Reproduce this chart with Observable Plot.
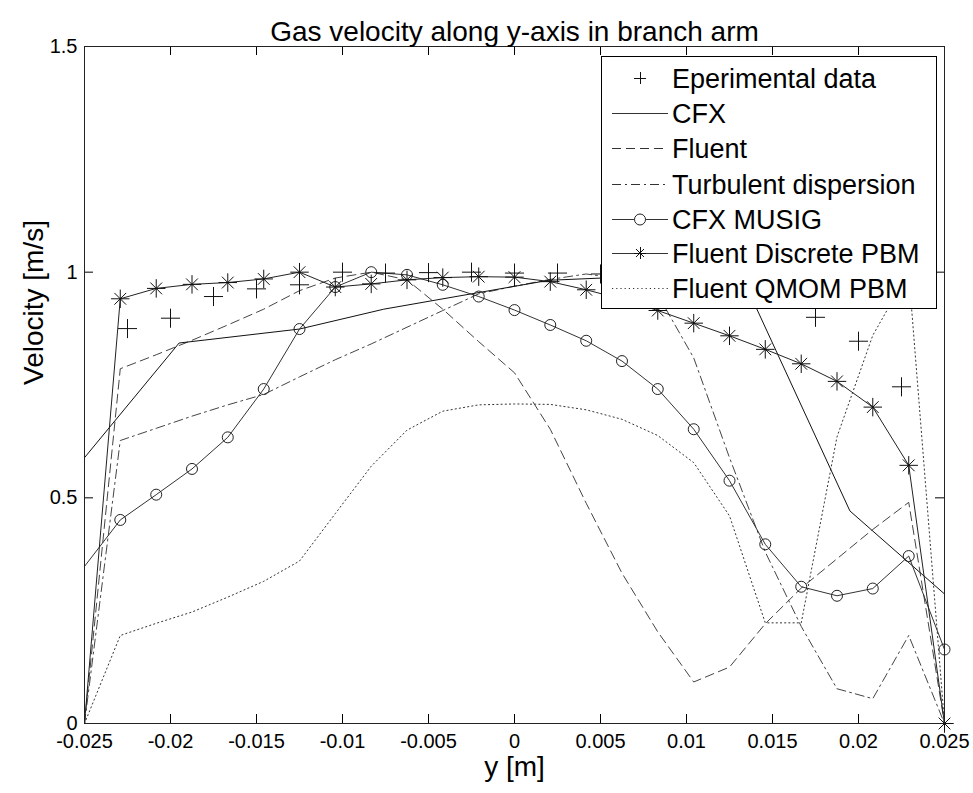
<!DOCTYPE html>
<html><head><meta charset="utf-8">
<script src="https://cdn.jsdelivr.net/npm/d3@7"></script>
<script src="https://cdn.jsdelivr.net/npm/@observablehq/plot@0.6"></script>
<style>
html,body{margin:0;padding:0;background:#fff;}
#chart{width:973px;height:793px;}
</style></head><body><div id="chart"></div>
<script>
// ---------- data ----------
const xTicks = [-0.025,-0.02,-0.015,-0.01,-0.005,0,0.005,0.01,0.015,0.02,0.025];
const yTicks = [0,0.5,1,1.5];

const gridX = [-0.025,-0.02292,-0.02083,-0.01875,-0.01667,-0.01458,-0.0125,-0.01042,-0.00833,-0.00625,-0.00417,-0.00208,0,0.00208,0.00417,0.00625,0.00833,0.01042,0.0125,0.01458,0.01667,0.01875,0.02083,0.02292,0.025];

const expX = [-0.0225,-0.02,-0.0175,-0.015,-0.0125,-0.01,-0.0075,-0.005,-0.0025,0,0.0025,0.005,0.0075,0.01,0.0125,0.015,0.0175,0.02,0.0225];
const expV = [0.875,0.898,0.946,0.963,0.972,1.0,0.998,0.999,1.0,0.998,0.998,0.996,0.99,0.98,0.96,0.94,0.9,0.847,0.746];

const cfxX = [-0.025,-0.0195,-0.0125,-0.0076,0.002,0.0131,0.0195,0.025];
const cfxV = [0.589,0.843,0.874,0.918,0.982,1.0,0.471,0.287];

const fluentV = [0,0.786,0.817,0.849,0.883,0.918,0.959,0.987,1.0,0.983,0.918,0.846,0.777,0.652,0.488,0.333,0.203,0.092,0.125,0.221,0.30,0.365,0.43,0.49,0];
const turbV   = [0,0.627,0.654,0.681,0.706,0.729,0.768,0.806,0.841,0.878,0.915,0.952,0.969,0.984,0.996,0.985,0.95,0.81,0.589,0.38,0.215,0.077,0.055,0.195,0];
const musigV  = [0.348,0.451,0.507,0.564,0.634,0.741,0.874,0.967,1.0,0.994,0.972,0.946,0.916,0.883,0.848,0.803,0.741,0.652,0.538,0.397,0.303,0.283,0.299,0.371,0.164];
const discV   = [0,0.941,0.964,0.973,0.977,0.985,1.0,0.967,0.974,0.983,0.988,0.99,0.989,0.979,0.961,0.94,0.915,0.887,0.859,0.829,0.797,0.758,0.701,0.572,0];
const qmomV   = [0,0.195,0.222,0.247,0.28,0.315,0.36,0.465,0.57,0.65,0.692,0.706,0.708,0.707,0.695,0.674,0.638,0.578,0.46,0.223,0.223,0.635,0.86,1.0,0];

const legendNames = ["Eperimental data","CFX","Fluent","Turbulent dispersion","CFX MUSIG","Fluent Discrete PBM","Fluent QMOM PBM"];

// ---------- build ----------
const rows = (xs, vs) => xs.map((x,i)=>({x, v: vs[i]}));
const expD = rows(expX, expV);
const cfxD = rows(cfxX, cfxV);
const fluD = rows(gridX, fluentV);
const turD = rows(gridX, turbV);
const musD = rows(gridX, musigV);
const disD = rows(gridX, discV);
const qmoD = rows(gridX, qmomV);

const W=973, H=793, mL=84, mR=29, mT=46, mB=70;
const pW = W-mL-mR, pH = H-mT-mB;
const fmt = d => String(d);
const FONT = '"Liberation Sans", Arial, Helvetica, sans-serif';

const plot = Plot.plot({
  width: W, height: H,
  marginLeft: mL, marginRight: mR, marginTop: mT, marginBottom: mB,
  style: {fontFamily: FONT, fontSize: "20px", color: "#000", background: "#fff", overflow: "visible"},
  x: {domain: [-0.025, 0.025]},
  y: {domain: [0, 1.5]},
  marks: [
    Plot.axisX({ticks: xTicks, tickFormat: fmt, tickSize: 0, tickPadding: 10, label: null, fontSize: 20}),
    Plot.axisY({ticks: yTicks, tickFormat: fmt, tickSize: 0, tickPadding: 7, label: null, fontSize: 20}),
    Plot.tickX(xTicks, {x: d=>d, insetTop: pH-9, stroke: "#000"}),
    Plot.tickX(xTicks, {x: d=>d, insetBottom: pH-9, stroke: "#000"}),
    Plot.tickY(yTicks, {y: d=>d, insetRight: pW-9, stroke: "#000"}),
    Plot.tickY(yTicks, {y: d=>d, insetLeft: pW-9, stroke: "#000"}),
    // series
    Plot.line(qmoD, {x:"x", y:"v", stroke:"#333", strokeWidth:1, strokeDasharray:"1.2,3"}),
    Plot.line(fluD, {x:"x", y:"v", stroke:"#444", strokeWidth:1, strokeDasharray:"9,5"}),
    Plot.line(turD, {x:"x", y:"v", stroke:"#444", strokeWidth:1, strokeDasharray:"9,4,2,4"}),
    Plot.line(cfxD, {x:"x", y:"v", stroke:"#111", strokeWidth:1}),
    Plot.line(musD, {x:"x", y:"v", stroke:"#333", strokeWidth:1}),
    Plot.dot(musD.filter(d=>d.x>-0.025), {x:"x", y:"v", r:5.5, stroke:"#222", fill:"none", strokeWidth:1}),
    Plot.line(disD, {x:"x", y:"v", stroke:"#222", strokeWidth:1}),
    Plot.dot(disD.filter(d=>d.x>-0.025), {x:"x", y:"v", symbol:"plus", r:6, stroke:"#111", strokeWidth:1}),
    Plot.dot(disD.filter(d=>d.x>-0.025), {x:"x", y:"v", symbol:"times", r:5.4, stroke:"#111", strokeWidth:1}),
    Plot.dot(expD, {x:"x", y:"v", symbol:"plus", r:6.2, stroke:"#111", strokeWidth:1}),
    Plot.frame({stroke:"#222"}),
    // titles
    Plot.text(["Gas velocity along y-axis in branch arm"], {frameAnchor:"top", dy:-25, fontSize:28, fill:"#000"}),
    Plot.text(["y [m]"], {frameAnchor:"bottom", dy:52, fontSize:28, fill:"#000"}),
    Plot.text(["Velocity [m/s]"], {frameAnchor:"left", dx:-50, rotate:-90, fontSize:28, fill:"#000"})
  ]
});
document.getElementById("chart").appendChild(plot);

// ---------- legend (MATLAB-style, opaque box) ----------
const svg = d3.select(plot);
const lg = svg.append("g").attr("font-family", FONT).attr("text-anchor","start");
lg.append("rect").attr("x",601.5).attr("y",56.5).attr("width",335).attr("height",252)
  .attr("fill","#fff").attr("stroke","#000").attr("stroke-width",1);
const rowY = [78,113,148,184,219,253,288];
const styles = [
  {line:false, marker:"plus"},
  {line:true, dash:null},
  {line:true, dash:"9,5"},
  {line:true, dash:"9,4,2,4"},
  {line:true, dash:null, marker:"circle"},
  {line:true, dash:null, marker:"star"},
  {line:true, dash:"1.2,3"}
];
legendNames.forEach((name,i)=>{
  const y = rowY[i], s = styles[i];
  if (s.line) {
    const l = lg.append("line").attr("x1",612).attr("x2",668).attr("y1",y+0.5).attr("y2",y+0.5)
      .attr("stroke","#333").attr("stroke-width",1);
    if (s.dash) l.attr("stroke-dasharray", s.dash);
  }
  if (s.marker==="plus" || s.marker==="star") {
    lg.append("path").attr("d",`M634,${y+0.5}H646M640.5,${y-6}V${y+6}`).attr("stroke","#111").attr("fill","none");
  }
  if (s.marker==="star") {
    lg.append("path").attr("d",`M636,${y-4}L644,${y+4}M636,${y+4}L644,${y-4}`).attr("stroke","#111").attr("fill","none");
  }
  if (s.marker==="circle") {
    lg.append("circle").attr("cx",640).attr("cy",y+0.5).attr("r",5.5).attr("fill","#fff").attr("stroke","#222");
  }
  lg.append("text").attr("x",672).attr("y",y).attr("dy","0.36em").attr("font-size",27)
    .attr("text-anchor","start").attr("fill","#000").text(name);
});
</script>
</body></html>
